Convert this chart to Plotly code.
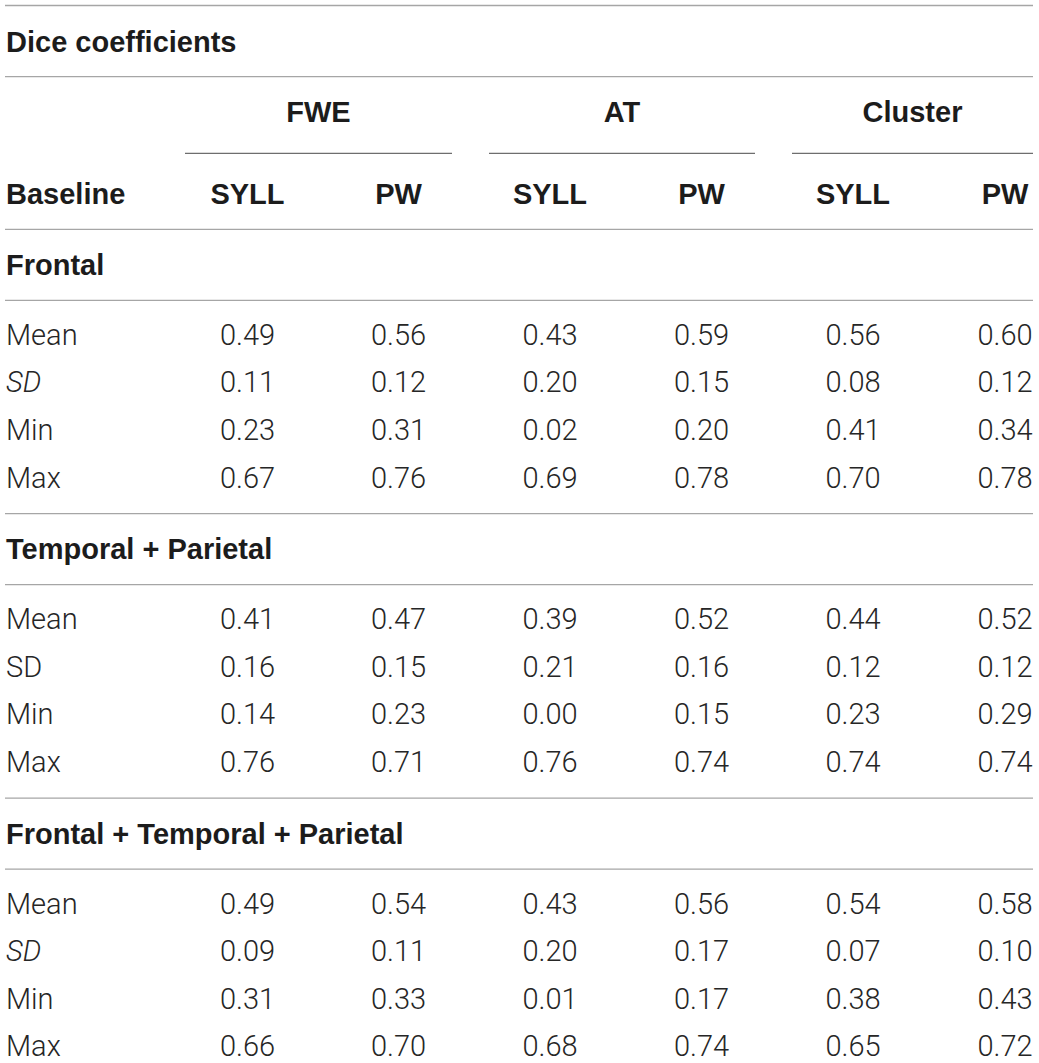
import plotly.graph_objects as go

# table content
title = "Dice coefficients"
groups = ["FWE", "AT", "Cluster"]
subcols = ["SYLL", "PW", "SYLL", "PW", "SYLL", "PW"]
row_head = "Baseline"
sections = ["Frontal", "Temporal + Parietal", "Frontal + Temporal + Parietal"]
stats = [
    ["Mean", "<i>SD</i>", "Min", "Max"],
    ["Mean", "SD", "Min", "Max"],
    ["Mean", "<i>SD</i>", "Min", "Max"],
]

frontal = [
    [0.49, 0.56, 0.43, 0.59, 0.56, 0.60],
    [0.11, 0.12, 0.20, 0.15, 0.08, 0.12],
    [0.23, 0.31, 0.02, 0.20, 0.41, 0.34],
    [0.67, 0.76, 0.69, 0.78, 0.70, 0.78],
]
temporal_parietal = [
    [0.41, 0.47, 0.39, 0.52, 0.44, 0.52],
    [0.16, 0.15, 0.21, 0.16, 0.12, 0.12],
    [0.14, 0.23, 0.00, 0.15, 0.23, 0.29],
    [0.76, 0.71, 0.76, 0.74, 0.74, 0.74],
]
frontal_temporal_parietal = [
    [0.49, 0.54, 0.43, 0.56, 0.54, 0.58],
    [0.09, 0.11, 0.20, 0.17, 0.07, 0.10],
    [0.31, 0.33, 0.01, 0.17, 0.38, 0.43],
    [0.66, 0.70, 0.68, 0.74, 0.65, 0.72],
]
values = [frontal, temporal_parietal, frontal_temporal_parietal]

# layout (pixel units)
W, H = 1039, 1063
left_x = 6
line_x0, line_x1 = 5, 1033
col_x = [247.5, 398.5, 550, 701.5, 853, 1005]
group_span = [(185, 452), (489, 755), (792, 1033)]

BOLD = dict(family="Liberation Sans, Arial, sans-serif", size=29, color="#1c1c1c", weight="bold")
LIGHT = dict(family="Roboto, Liberation Sans, sans-serif", size=29, color="#262626", weight=300)
FULL_LINE = dict(color="#a6a6a6", width=1.3)
PART_LINE = dict(color="#6e6e6e", width=1.3)
dy_bold, dy_light = 3, 1  # nudge text so caps sit centred on the row

hlines = [5.5, 76.7, 229.3]
title_y = 41.7
group_y = 112
part_y = 153.3
head_y = 193.3

# walk down the sections
sec_y, row_y = [], []
y = hlines[-1]
for s in sections:
    y += 35.5
    sec_y.append(y)
    y += 35.5
    hlines.append(y)
    ys = []
    y += 36.3
    for k in range(4):
        ys.append(y)
        if k < 3:
            y += 47.6
    row_y.append(ys)
    y += 34.3
    if s != sections[-1]:
        hlines.append(y)

fig = go.Figure()

# bold left labels
lx, ly, lt = [left_x, left_x], [title_y + dy_bold, head_y + dy_bold], [title, row_head]
for s, sy in zip(sections, sec_y):
    lx.append(left_x); ly.append(sy + dy_bold); lt.append(s)
fig.add_trace(go.Scatter(x=lx, y=ly, text=lt, mode="text", textposition="middle right",
                         textfont=BOLD, hoverinfo="skip"))

# bold column headers
gx = [(a + b) / 2 for a, b in group_span]
fig.add_trace(go.Scatter(x=gx + col_x, y=[group_y + dy_bold] * 3 + [head_y + dy_bold] * 6,
                         text=groups + subcols, mode="text", textposition="middle center",
                         textfont=BOLD, hoverinfo="skip"))

# stat labels
sx, sy_, st = [], [], []
for labels, ys in zip(stats, row_y):
    for lab, yy in zip(labels, ys):
        sx.append(left_x); sy_.append(yy + dy_light); st.append(lab)
fig.add_trace(go.Scatter(x=sx, y=sy_, text=st, mode="text", textposition="middle right",
                         textfont=LIGHT, hoverinfo="skip"))

# values
vx, vy, vt = [], [], []
for block, ys in zip(values, row_y):
    for row, yy in zip(block, ys):
        for cx, v in zip(col_x, row):
            vx.append(cx); vy.append(yy + dy_light); vt.append(f"{v:.2f}")
fig.add_trace(go.Scatter(x=vx, y=vy, text=vt, mode="text", textposition="middle center",
                         textfont=LIGHT, hoverinfo="skip"))

shapes = [dict(type="line", xref="x", yref="y", x0=line_x0, x1=line_x1, y0=hy, y1=hy, line=FULL_LINE)
          for hy in hlines]
shapes += [dict(type="line", xref="x", yref="y", x0=a, x1=b, y0=part_y, y1=part_y, line=PART_LINE)
           for a, b in group_span]

fig.update_layout(
    width=W, height=H,
    margin=dict(l=0, r=0, t=0, b=0),
    paper_bgcolor="white", plot_bgcolor="white",
    showlegend=False,
    shapes=shapes,
    xaxis=dict(range=[0, W], visible=False, fixedrange=True),
    yaxis=dict(range=[H, 0], visible=False, fixedrange=True),
)

# drop the default page margin so the figure fills the window exactly
fig.write_html("out.html", config={"displayModeBar": False},
               post_script="document.body.style.margin='0';document.body.style.overflow='hidden';")
